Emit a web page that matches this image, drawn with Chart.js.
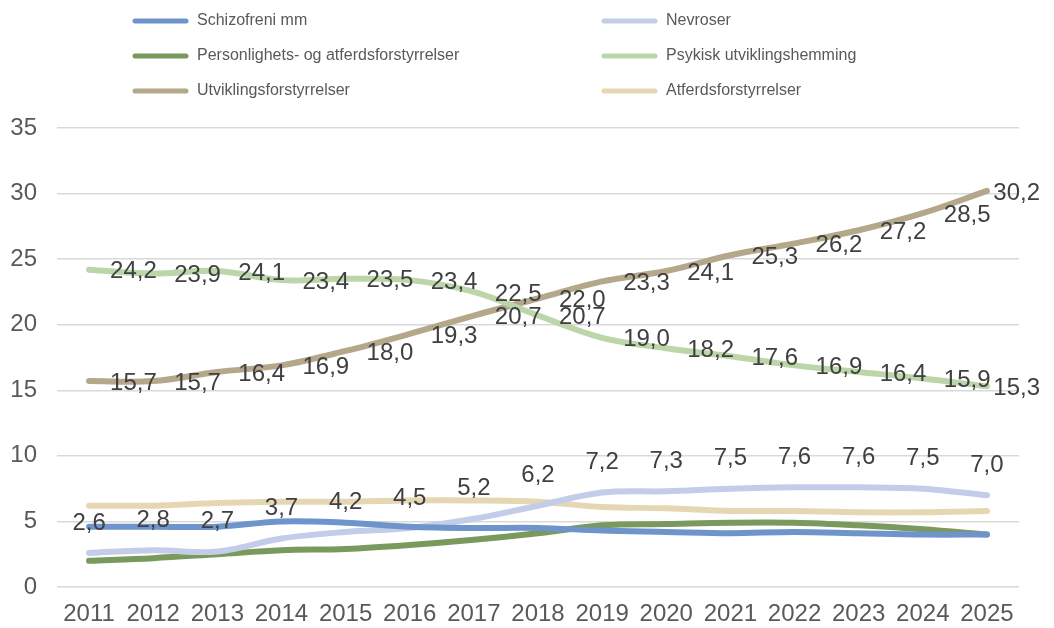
<!DOCTYPE html>
<html>
<head>
<meta charset="utf-8">
<script src="https://cdn.jsdelivr.net/npm/chart.js@4"></script>
<style>
  html, body { margin: 0; padding: 0; background: #fff; }
  #wrap { width: 1054px; height: 628px; }
</style>
</head>
<body>
<div id="wrap"><canvas id="c"></canvas></div>
<script>
const years = ["2011","2012","2013","2014","2015","2016","2017","2018","2019","2020","2021","2022","2023","2024","2025"];

const schizofreni = [4.6, 4.6, 4.6, 5.0, 4.9, 4.6, 4.5, 4.5, 4.3, 4.2, 4.1, 4.2, 4.1, 4.0, 4.0];
const nevroser = [2.6, 2.8, 2.7, 3.7, 4.2, 4.5, 5.2, 6.2, 7.2, 7.3, 7.5, 7.6, 7.6, 7.5, 7.0];
const personlighets = [2.0, 2.2, 2.5, 2.8, 2.9, 3.2, 3.6, 4.1, 4.7, 4.8, 4.9, 4.9, 4.7, 4.4, 4.0];
const psykisk = [24.2, 23.9, 24.1, 23.4, 23.5, 23.4, 22.5, 20.7, 19.0, 18.2, 17.6, 16.9, 16.4, 15.9, 15.3];
const utvikling = [15.7, 15.7, 16.4, 16.9, 18.0, 19.3, 20.7, 22.0, 23.3, 24.1, 25.3, 26.2, 27.2, 28.5, 30.2];
const atferd = [6.2, 6.2, 6.4, 6.5, 6.5, 6.6, 6.6, 6.5, 6.1, 6.0, 5.8, 5.8, 5.7, 5.7, 5.8];

const textColor = "#404040";
const axisColor = "#595959";
const fontFamily = "'Liberation Sans', Arial, sans-serif";

function series(label, data, color, labelPos) {
  return {
    label, data, labelPos,
    borderColor: color,
    backgroundColor: color,
    borderWidth: 6,
    pointRadius: 0,
    tension: 0.35,
    borderCapStyle: "round",
    fill: false,
  };
}

// legend drawn by hand, two columns like the original
const legendPlugin = {
  id: "twoColLegend",
  afterDraw(chart) {
    const ctx = chart.ctx;
    const cols = [133, 602];
    const rows = [21, 56, 91];
    ctx.save();
    ctx.font = "16px " + fontFamily;
    ctx.textBaseline = "middle";
    chart.data.datasets.forEach((ds, i) => {
      const x = cols[i % 2], y = rows[Math.floor(i / 2)];
      ctx.strokeStyle = ds.borderColor;
      ctx.lineWidth = 5;
      ctx.lineCap = "round";
      ctx.beginPath();
      ctx.moveTo(x + 2, y);
      ctx.lineTo(x + 53, y);
      ctx.stroke();
      ctx.fillStyle = axisColor;
      ctx.fillText(ds.label, x + 64, y);
    });
    ctx.restore();
  },
};

const valueLabels = {
  id: "valueLabels",
  afterDatasetsDraw(chart) {
    const ctx = chart.ctx;
    ctx.save();
    ctx.font = "24px " + fontFamily;
    ctx.fillStyle = textColor;
    ctx.textBaseline = "middle";
    chart.data.datasets.forEach((ds, i) => {
      if (!ds.labelPos) return;
      const meta = chart.getDatasetMeta(i);
      meta.data.forEach((pt, j) => {
        const txt = ds.data[j].toFixed(1).replace(".", ",");
        if (ds.labelPos === "above") {
          ctx.textAlign = "center";
          ctx.fillText(txt, pt.x, pt.y - 30);
        } else {
          ctx.textAlign = "left";
          const w = ctx.measureText(txt).width;
          const x = Math.min(pt.x + 21, chart.width - 14 - w);
          ctx.fillText(txt, x, pt.y + 2);
        }
      });
    });
    ctx.restore();
  },
};

new Chart(document.getElementById("c"), {
  type: "line",
  data: {
    labels: years,
    datasets: [
      series("Schizofreni mm", schizofreni, "#6E94CB", null),
      series("Nevroser", nevroser, "#C3CDE9", "above"),
      series("Personlighets- og atferdsforstyrrelser", personlighets, "#7A995C", null),
      series("Psykisk utviklingshemming", psykisk, "#BCD6A9", "right"),
      series("Utviklingsforstyrrelser", utvikling, "#B4A78A", "right"),
      series("Atferdsforstyrrelser", atferd, "#E6D7B3", null),
    ],
  },
  options: {
    responsive: true,
    maintainAspectRatio: false,
    animation: false,
    layout: { padding: { top: 128, left: 8, right: 35, bottom: 0 } },
    plugins: {
      legend: { display: false },
      tooltip: { enabled: false },
    },
    scales: {
      x: {
        offset: true,
        afterFit(scale) { scale.height = 41; },
        grid: { display: false, drawTicks: false },
        border: { display: false },
        ticks: {
          color: axisColor,
          font: { family: fontFamily, size: 24 },
          maxRotation: 0,
          autoSkip: false,
          padding: 13,
        },
      },
      y: {
        min: 0,
        max: 35,
        afterFit(scale) { scale.width = 49; },
        grid: { color: "#D9D9D9", lineWidth: 1.5, drawTicks: false },
        border: { display: false },
        ticks: {
          stepSize: 5,
          color: axisColor,
          font: { family: fontFamily, size: 24 },
          padding: 20,
        },
      },
    },
  },
  plugins: [legendPlugin, valueLabels],
});
</script>
</body>
</html>
